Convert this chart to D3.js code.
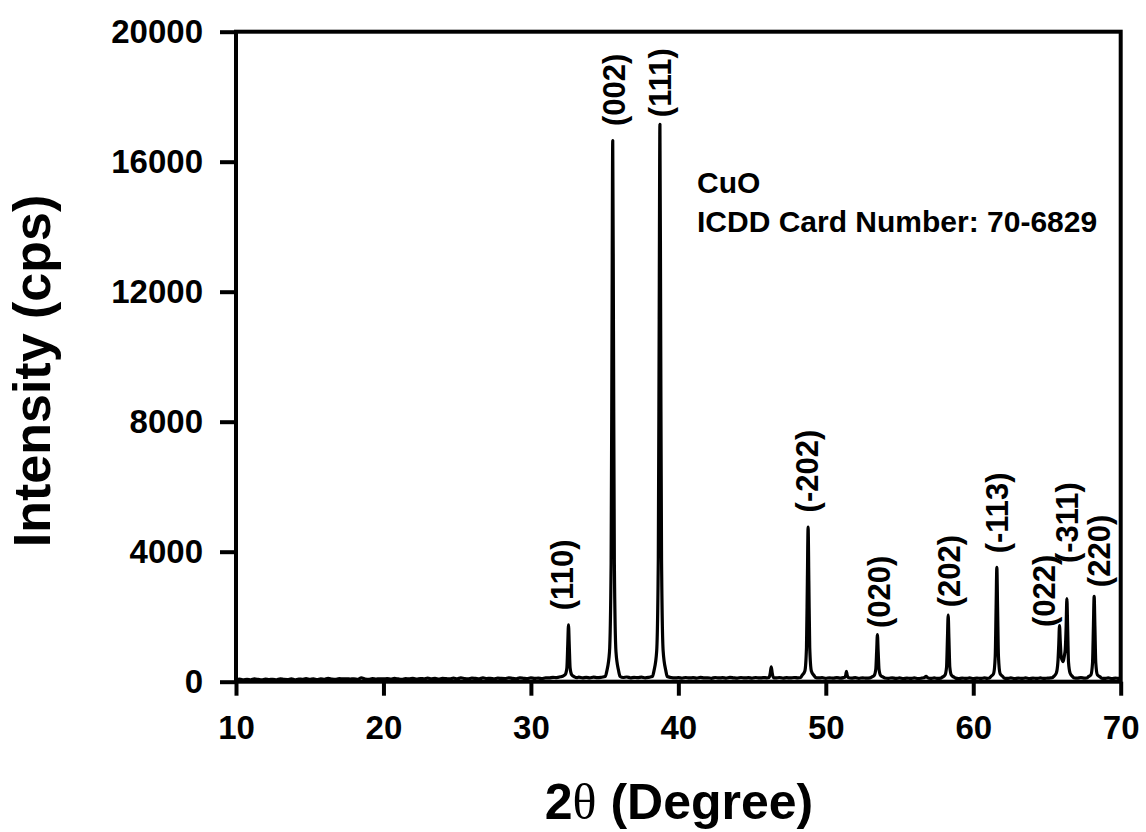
<!DOCTYPE html>
<html>
<head>
<meta charset="utf-8">
<script src="https://cdn.jsdelivr.net/npm/d3@7"></script>
<style>
  html, body { margin: 0; padding: 0; background: #fff; }
  svg { display: block; }
  text { font-family: "Liberation Sans", Arial, sans-serif; font-weight: bold; fill: #000; }
</style>
</head>
<body>
<svg id="chart" width="1146" height="832"></svg>
<script>
// CuO powder scan: [2θ (deg), intensity (cps)]
const scan = [
  [10.00,65],[10.25,80],[10.50,55],[10.75,75],[11.00,60],[11.25,85],[11.50,70],[11.75,55],[12.00,80],[12.25,65],
  [12.50,75],[12.75,60],[13.00,90],[13.25,70],[13.50,65],[13.75,85],[14.00,60],[14.25,80],[14.50,75],[14.75,95],
  [15.00,70],[15.25,85],[15.50,65],[15.75,90],[16.00,75],[16.25,100],[16.50,80],[16.75,70],[17.00,95],[17.25,85],
  [17.50,90],[17.75,80],[18.00,90],[18.25,75],[18.50,120],[18.75,85],[19.00,70],[19.25,95],[19.50,80],[19.75,90],
  [20.00,85],[20.25,95],[20.50,80],[20.75,100],[21.00,85],[21.25,75],[21.50,95],[21.75,85],[22.00,105],[22.25,80],
  [22.50,95],[22.75,90],[23.00,110],[23.25,85],[23.50,100],[23.75,80],[24.00,105],[24.25,95],[24.50,85],[24.75,110],
  [25.00,90],[25.25,115],[25.50,95],[25.75,85],[26.00,110],[26.25,100],[26.50,90],[26.75,115],[27.00,95],[27.25,105],
  [27.50,90],[27.75,110],[28.00,100],[28.25,95],[28.50,120],[28.75,100],[29.00,90],[29.25,115],[29.50,105],[29.75,95],
  [30.00,120],[30.25,100],[30.50,110],[30.75,95],[31.00,120],[31.25,115],[31.50,135],[31.75,125],[32.00,150],
  [32.15,170],[32.33,220],[32.44,420],[32.50,1140],[32.55,1750],[32.60,1140],[32.66,420],[32.77,210],[32.95,150],
  [33.10,125],[33.25,140],[33.50,115],[33.75,135],[34.00,120],[34.25,140],[34.50,125],[34.75,135],[34.95,150],
  [35.05,170],[35.15,330],[35.33,915],[35.44,3660],[35.50,10800],[35.55,16650],[35.60,10800],[35.66,3660],[35.77,915],[35.95,330],[36.05,160],
  [36.25,130],[36.50,145],[36.75,120],[37.00,135],[37.25,125],[37.50,140],[37.75,120],[38.00,135],[38.15,150],
  [38.25,170],[38.35,340],[38.53,940],[38.64,3770],[38.70,11150],[38.75,17150],[38.80,11150],[38.86,3770],[38.97,940],[39.15,340],[39.25,160],
  [39.50,130],[39.75,115],[40.00,125],[40.25,110],[40.50,130],[40.75,115],[41.00,125],[41.25,110],[41.50,135],[41.75,115],
  [42.00,120],[42.25,105],[42.50,130],[42.75,115],[43.00,125],[43.25,110],[43.50,135],[43.75,120],[44.00,110],[44.25,130],
  [44.50,115],[44.75,125],[45.00,110],[45.25,130],[45.50,115],[45.75,125],[46.00,120],
  [46.15,130],[46.24,280],[46.30,460],[46.36,280],[46.45,125],
  [46.60,115],[46.85,130],[47.10,110],[47.35,125],[47.60,115],[47.85,130],[48.10,120],
  [48.30,130],[48.40,200],[48.58,330],[48.69,1050],[48.75,3100],[48.80,4760],[48.85,3100],[48.91,1050],[49.02,330],[49.20,190],[49.30,130],
  [49.50,115],[49.75,125],[50.00,105],[50.25,120],[50.50,110],[50.75,125],[51.00,110],[51.20,125],
  [51.30,140],[51.36,220],[51.40,320],[51.44,220],[51.52,130],
  [51.75,110],[52.00,125],[52.25,105],[52.50,120],[52.75,110],
  [53.00,120],[53.10,140],[53.28,190],[53.39,380],[53.45,940],[53.50,1450],[53.55,940],[53.61,380],[53.72,190],[53.90,140],[54.00,115],
  [54.25,105],[54.50,120],[54.75,100],[55.00,115],[55.25,95],[55.50,110],[55.75,100],[56.00,115],[56.25,95],[56.50,110],
  [56.70,130],[56.80,165],[56.90,125],[57.10,100],[57.35,115],[57.60,100],
  [57.80,110],[57.90,140],[58.08,200],[58.19,450],[58.25,1330],[58.30,2050],[58.35,1330],[58.41,450],[58.52,200],[58.70,140],[58.80,110],
  [59.00,95],[59.25,110],[59.50,100],[59.75,115],[60.00,95],[60.25,110],[60.50,100],[60.75,115],[60.95,105],
  [61.10,115],[61.20,160],[61.38,250],[61.49,775],[61.55,2290],[61.60,3520],[61.65,2290],[61.71,775],[61.82,250],[62.00,160],[62.10,110],
  [62.30,100],[62.55,115],[62.80,95],[63.05,110],[63.30,100],[63.55,115],[63.80,95],[64.05,110],[64.30,100],[64.55,115],
  [64.80,100],[65.05,110],[65.25,115],
  [65.35,120],[65.45,160],[65.63,260],[65.74,600],[65.80,1150],[65.85,1730],[65.90,1250],[65.97,750],[66.10,620],
  [66.18,800],[66.24,1000],[66.30,1700],[66.35,2560],[66.40,1700],[66.46,600],[66.57,260],[66.75,150],[66.85,115],
  [67.05,110],[67.30,125],[67.55,110],
  [67.70,115],[67.80,150],[67.98,210],[68.09,580],[68.15,1710],[68.20,2630],[68.25,1710],[68.31,580],[68.42,210],[68.60,150],[68.70,110],
  [68.90,100],[69.15,115],[69.40,95],[69.65,110],[69.85,100],[70.00,105]
];

// Miller-index labels and the (2θ, cps) point where each label starts
const peakLabels = ["(110)", "(002)", "(111)", "(-202)", "(020)", "(202)", "(-113)", "(022)", "(-311)", "(220)"];
const labelTheta = [32.18, 35.70, 38.82, 48.79, 53.68, 58.42, 61.68, 64.87, 66.43, 68.60];
const labelCps   = [2200, 17100, 17370, 5210, 1650, 2290, 3950, 1680, 3650, 2910];

// Axis ticks
const xTicks = [10, 20, 30, 40, 50, 60, 70];
const yTicks = [0, 4000, 8000, 12000, 16000, 20000];

const noteLines = ["CuO", "ICDD Card Number: 70-6829"];

const svg = d3.select("#chart");
const plot = { left: 236, right: 1120.7, top: 31.7, bottom: 681.7 };

const x = d3.scaleLinear().domain([10, 70]).range([plot.left, plot.right]);
const y = d3.scaleLinear().domain([0, 20000]).range([plot.bottom, plot.top]);

// diffraction trace
svg.append("path")
  .datum(scan)
  .attr("fill", "none")
  .attr("stroke", "#000")
  .attr("stroke-width", 3.2)
  .attr("stroke-linejoin", "round")
  .attr("d", d3.line().x(d => x(d[0])).y(d => y(d[1])).curve(d3.curveMonotoneX));

// axes
const xAxis = svg.append("g")
  .attr("transform", `translate(0,${plot.bottom})`)
  .call(d3.axisBottom(x).tickValues(xTicks).tickSize(14).tickPadding(20).tickFormat(d3.format("d")));
const yAxis = svg.append("g")
  .attr("transform", `translate(${plot.left},0)`)
  .call(d3.axisLeft(y).tickValues(yTicks).tickSize(16).tickPadding(17).tickFormat(d3.format("d")));

[xAxis, yAxis].forEach(g => {
  g.select(".domain").remove();
  g.selectAll(".tick line").attr("stroke", "#000").attr("stroke-width", 4);
  g.selectAll(".tick text")
    .style("font-family", '"Liberation Sans", Arial, sans-serif')
    .style("font-weight", "bold")
    .style("font-size", "33px")
    .attr("fill", "#000");
});

// plot frame
svg.append("rect")
  .attr("x", plot.left).attr("y", plot.top)
  .attr("width", plot.right - plot.left).attr("height", plot.bottom - plot.top)
  .attr("fill", "none").attr("stroke", "#000").attr("stroke-width", 4);

// peak labels, rotated
svg.append("g").selectAll("text")
  .data(peakLabels)
  .join("text")
  .attr("transform", (d, i) => `translate(${x(labelTheta[i])},${y(labelCps[i])}) rotate(-90)`)
  .attr("dy", "0.33em")
  .attr("text-anchor", "start")
  .style("font-size", "31px")
  .text(d => d);

// phase note
svg.append("g").selectAll("text")
  .data(noteLines)
  .join("text")
  .attr("x", 697)
  .attr("y", (d, i) => 193 + i * 39)
  .style("font-size", "30px")
  .text(d => d);

// axis titles
const xTitle = svg.append("text")
  .attr("x", 679).attr("y", 819)
  .attr("text-anchor", "middle")
  .style("font-size", "50px");
xTitle.append("tspan").text("2");
xTitle.append("tspan")
  .style("font-family", '"Liberation Serif", "Times New Roman", serif')
  .style("font-weight", "normal")
  .text("θ");
xTitle.append("tspan").text(" (Degree)");

svg.append("text")
  .attr("transform", "translate(50,371) rotate(-90)")
  .attr("text-anchor", "middle")
  .style("font-size", "52px")
  .text("Intensity (cps)");
</script>
</body>
</html>
